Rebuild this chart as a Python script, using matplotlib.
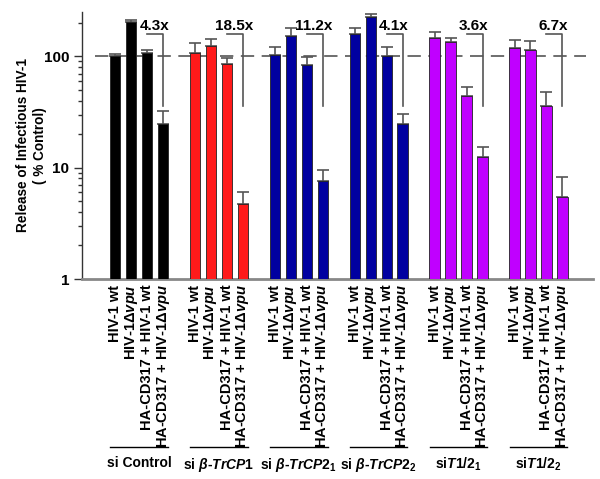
import numpy as np
import matplotlib
matplotlib.use("Agg")
import matplotlib.pyplot as plt
from matplotlib.ticker import LogLocator, FixedLocator, NullFormatter
import matplotlib.transforms as mtransforms

plt.rcParams['font.family'] = ['Liberation Sans', 'DejaVu Sans']
plt.rcParams['font.weight'] = 'bold'
plt.rcParams['mathtext.fontset'] = 'custom'
plt.rcParams['mathtext.rm'] = 'Liberation Sans:bold'
plt.rcParams['mathtext.it'] = 'Liberation Sans:bold:italic'
plt.rcParams['mathtext.bf'] = 'Liberation Sans:bold'

# data (% of control)
conditions = ["HIV-1 wt", "HIV-1\u0394$\\mathit{vpu}$",
              "HA-CD317 + HIV-1 wt", "HA-CD317 + HIV-1\u0394$\\mathit{vpu}$"]
groups = ["si Control",
          "si $\\mathit{\u03b2}$-$\\mathit{TrCP1}$",
          "si $\\mathit{\u03b2}$-$\\mathit{TrCP2}_{\\mathrm{1}}$",
          "si $\\mathit{\u03b2}$-$\\mathit{TrCP2}_{\\mathrm{2}}$",
          "si$\\mathit{T1/2}_{\\mathrm{1}}$",
          "si$\\mathit{T1/2}_{\\mathrm{2}}$"]
means = [
    [100, 205, 106, 24.6],
    [108, 123, 86, 4.7],
    [103, 151, 84, 7.6],
    [160, 224, 100, 24.9],
    [145, 135, 44, 12.4],
    [119, 115, 36, 5.4],
]
upper = [
    [105, 213, 115, 32],
    [131, 143, 97, 6.0],
    [120, 179, 99, 9.5],
    [178, 239, 121, 30.6],
    [165, 147, 53, 15.3],
    [140, 137, 48, 8.3],
]
fold = ["4.3x", "18.5x", "11.2x", "4.1x", "3.6x", "6.7x"]
colors = ["#000000", "#ff1a1a", "#0000a0", "#0000a0", "#c000ff", "#c000ff"]

fig = plt.figure(figsize=(6, 4.79), dpi=100)
ax = fig.add_axes([0.137, 0.4175, 0.851, 0.5575])

gray = "#555555"
xticks = []
xlabels = []
trans = mtransforms.blended_transform_factory(ax.transData, ax.transAxes)
for g in range(len(groups)):
    x0 = g * 5
    xs = np.arange(4) + x0
    m = np.array(means[g])
    err = np.array(upper[g]) - m
    ax.bar(xs, m, width=0.65, color=colors[g], edgecolor="#222222",
           linewidth=0.6, zorder=3)
    ax.errorbar(xs, m, yerr=[np.zeros(4), err], fmt="none", ecolor=gray,
                elinewidth=1.2, capsize=4, capthick=1.2, zorder=2)
    # bracket with fold change
    ax.plot([x0 + 2, x0 + 3, x0 + 3], [157, 157, 36], color=gray, lw=1.2,
            zorder=4)
    ax.text(x0 + 2.45, 163, fold[g], ha="center", va="bottom", fontsize=11,
            fontweight="bold")
    xticks.extend(xs)
    xlabels.extend(conditions)
    # group label
    ax.plot([x0 - 0.3, x0 + 3.3], [-0.629, -0.629], color="black", lw=1,
            transform=trans, clip_on=False)
    ax.text(x0 + 1.5, -0.662, groups[g], transform=trans, ha="center",
            va="top", fontsize=10, fontweight="bold")

ax.plot([-1.25, 29.5], [100, 100], color=gray, lw=1.2,
        ls=(0, (8, 4.5)), zorder=1)

ax.set_yscale("log")
ax.set_ylim(1, 250)
ax.set_xlim(-2.06, 29.9)
ax.yaxis.set_major_locator(FixedLocator([1, 10, 100]))
ax.set_yticklabels(["1", "10", "100"], fontsize=11, fontweight="bold")
ax.yaxis.set_minor_locator(LogLocator(base=10, subs=np.arange(2, 10)))
ax.yaxis.set_minor_formatter(NullFormatter())
ax.tick_params(axis="y", which="major", length=6, width=1, color="#333333")
ax.tick_params(axis="y", which="minor", length=3, width=1, color="#333333")

ax.set_xticks(xticks)
ax.set_xticklabels(xlabels, rotation=90, fontsize=10.5, fontweight="bold",
                   va="top", ha="center")
ax.tick_params(axis="x", length=0, pad=4)

ax.set_ylabel("Release of Infectious HIV-1\n( % Control)", fontsize=9.8,
              fontweight="bold", linespacing=1.35)
ax.yaxis.set_label_coords(-0.068, 0.5)

for s in ["top", "right"]:
    ax.spines[s].set_visible(False)
ax.spines["left"].set_color("#333333")
ax.spines["left"].set_linewidth(1)
ax.spines["bottom"].set_color("#888888")
ax.spines["bottom"].set_linewidth(2)

fig.savefig("out.png", dpi=100)
